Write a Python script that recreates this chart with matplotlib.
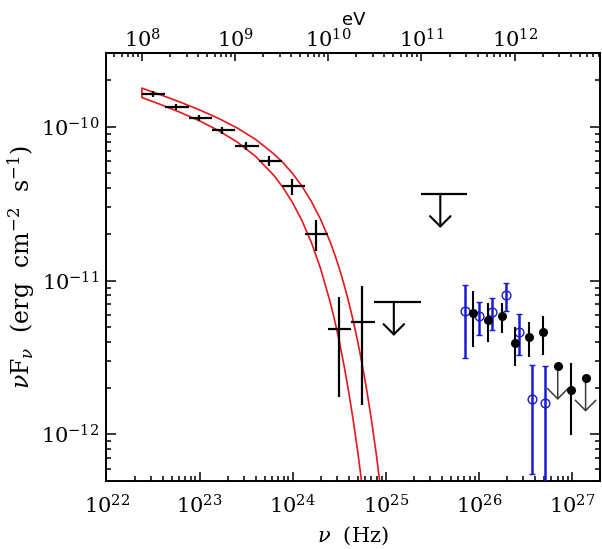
import numpy as np
import matplotlib
matplotlib.use('Agg')
import matplotlib.pyplot as plt
from matplotlib.ticker import LogLocator, LogFormatterMathtext, NullFormatter

plt.rcParams['font.family'] = ['DejaVu Serif']
plt.rcParams['mathtext.fontset'] = 'dejavuserif'

# ---------------- data ----------------
# Fermi-LAT spectral points (Hz, erg cm^-2 s^-1)
lat_nu = [3.13e22, 5.56e22, 9.89e22, 1.76e23, 3.13e23, 5.56e23, 9.90e23, 1.76e24, 3.13e24, 5.52e24]
lat_nu_lo = [2.42e22, 4.30e22, 7.64e22, 1.36e23, 2.42e23, 4.30e23, 7.64e23, 1.36e24, 2.38e24, 4.25e24]
lat_nu_hi = [4.30e22, 7.64e22, 1.36e23, 2.42e23, 4.30e23, 7.64e23, 1.36e24, 2.42e24, 4.25e24, 7.64e24]
lat_f = [1.63e-10, 1.35e-10, 1.14e-10, 9.5e-11, 7.5e-11, 6.0e-11, 4.09e-11, 2.01e-11, 4.83e-12, 5.41e-12]
lat_f_lo = [1.56e-10, 1.29e-10, 1.09e-10, 9.0e-11, 7.07e-11, 5.57e-11, 3.61e-11, 1.55e-11, 1.75e-12, 1.55e-12]
lat_f_hi = [1.70e-10, 1.41e-10, 1.19e-10, 1.0e-10, 7.96e-11, 6.46e-11, 4.59e-11, 2.47e-11, 7.85e-12, 9.18e-12]

# Fermi-LAT upper limits
ul_nu = [1.22e25, 3.85e25]
ul_nu_lo = [7.55e24, 2.39e25]
ul_nu_hi = [2.39e25, 7.43e25]
ul_f = [7.27e-12, 3.66e-11]

# TeV data, open blue circles
b_nu = [7.13e25, 1.00e26, 1.39e26, 1.95e26, 2.68e26, 3.73e26, 5.14e26]
b_f = [6.30e-12, 5.87e-12, 6.24e-12, 8.00e-12, 4.65e-12, 1.70e-12, 1.60e-12]
b_lo = [3.12e-12, 4.44e-12, 4.74e-12, 6.35e-12, 3.27e-12, 5.50e-13, 3.0e-13]
b_hi = [9.42e-12, 7.23e-12, 7.68e-12, 9.61e-12, 6.02e-12, 2.84e-12, 2.77e-12]

# TeV data, filled black circles
k_nu = [8.75e25, 1.25e26, 1.75e26, 2.47e26, 3.48e26, 4.92e26, 9.82e26]
k_f = [6.14e-12, 5.56e-12, 5.85e-12, 3.91e-12, 4.31e-12, 4.60e-12, 1.95e-12]
k_lo = [3.68e-12, 3.96e-12, 4.54e-12, 2.79e-12, 3.20e-12, 3.27e-12, 9.84e-13]
k_hi = [8.57e-12, 7.16e-12, 7.10e-12, 4.96e-12, 5.39e-12, 5.87e-12, 2.90e-12]
k_ul_nu = [7.03e26, 1.40e27]
k_ul_f = [2.79e-12, 2.34e-12]

# Model band (two red curves), log10(nu) and log10(nuFnu)
outer_lognu = [22.38, 22.6, 22.8, 23.0, 23.2, 23.4, 23.6, 23.8, 23.9, 24.0, 24.1, 24.2, 24.3,
               24.4, 24.45, 24.5, 24.55, 24.6, 24.65, 24.7, 24.75, 24.8, 24.85, 24.9, 24.95, 25.0]
outer_logf = [-9.749, -9.797, -9.842, -9.891, -9.945, -10.007, -10.082, -10.178, -10.236, -10.305,
              -10.387, -10.485, -10.602, -10.745, -10.828, -10.920, -11.022, -11.135, -11.261,
              -11.400, -11.556, -11.729, -11.922, -12.138, -12.379, -12.648]
inner_lognu = [22.38, 22.6, 22.8, 23.0, 23.2, 23.4, 23.6, 23.8, 23.9, 24.0, 24.1, 24.2, 24.3,
               24.4, 24.45, 24.5, 24.55, 24.6, 24.65, 24.7, 24.75, 24.8]
inner_logf = [-9.810, -9.860, -9.909, -9.962, -10.024, -10.098, -10.192, -10.318, -10.399, -10.495,
              -10.611, -10.751, -10.923, -11.134, -11.257, -11.394, -11.547, -11.718, -11.907,
              -12.118, -12.354, -12.618]

H_EV = 4.135667e-15  # eV per Hz

# ---------------- figure ----------------
fig = plt.figure(figsize=(6.02, 5.49), dpi=100)
ax = fig.add_axes([0.1769, 0.1244, 0.8198, 0.7785])
ax.set_xscale('log')
ax.set_yscale('log')
ax.set_xlim(1e22, 2e27)
ax.set_ylim(5e-13, 3e-10)

# model band
band_x = 10 ** np.concatenate([np.array(inner_lognu)[::-1], np.array(outer_lognu)])
band_y = 10 ** np.concatenate([np.array(inner_logf)[::-1], np.array(outer_logf)])
ax.plot(band_x, band_y, color='#e8161b', lw=1.2, zorder=2)

# LAT points
lat_nu_a = np.array(lat_nu); lat_f_a = np.array(lat_f)
ax.errorbar(lat_nu_a, lat_f_a,
            xerr=[lat_nu_a - np.array(lat_nu_lo), np.array(lat_nu_hi) - lat_nu_a],
            yerr=[lat_f_a - np.array(lat_f_lo), np.array(lat_f_hi) - lat_f_a],
            fmt='none', ecolor='black', elinewidth=1.6, capsize=0, zorder=3)

def down_arrow(x, y, color, lw, length=24.5, head=7.4):
    ax.annotate('', xy=(x, y), xycoords='data',
                xytext=(0, -length), textcoords='offset points',
                arrowprops=dict(arrowstyle=f'<-,head_length={head},head_width={head}',
                                color=color, lw=lw, shrinkA=0, shrinkB=0,
                                mutation_scale=1), zorder=3)

# LAT upper limits
ul_nu_a = np.array(ul_nu)
ax.errorbar(ul_nu_a, ul_f, xerr=[ul_nu_a - np.array(ul_nu_lo), np.array(ul_nu_hi) - ul_nu_a],
            fmt='none', ecolor='black', elinewidth=1.6, capsize=0, zorder=3)
for x, y in zip(ul_nu, ul_f):
    down_arrow(x, y, 'black', 1.5)

# blue open circles
b_f_a = np.array(b_f)
ax.errorbar(b_nu, b_f_a, yerr=[b_f_a - np.array(b_lo), np.array(b_hi) - b_f_a],
            fmt='o', mfc='none', mec='#1a1ad6', mew=1.0, ms=6.3, ecolor='#1a1ad6',
            elinewidth=1.8, capsize=2.2, capthick=1.6, zorder=4)

# black filled circles
k_f_a = np.array(k_f)
ax.errorbar(k_nu, k_f_a, yerr=[k_f_a - np.array(k_lo), np.array(k_hi) - k_f_a],
            fmt='o', mfc='black', mec='black', ms=5.5, ecolor='black',
            elinewidth=1.5, capsize=0, zorder=5)
ax.plot(k_ul_nu, k_ul_f, 'o', mfc='black', mec='black', ms=5.5, zorder=5)
for x, y in zip(k_ul_nu, k_ul_f):
    down_arrow(x, y, '#3a3a3a', 1.1)

# axes styling
for sp in ax.spines.values():
    sp.set_linewidth(1.4)
ax.tick_params(axis='both', which='both', direction='in', width=1.1,
               top=False, right=True, labelsize=15)
ax.tick_params(axis='x', which='major', length=6.5, pad=10)
ax.tick_params(axis='x', which='minor', length=3.3)
ax.tick_params(axis='y', which='major', length=7.2, pad=5)
ax.tick_params(axis='y', which='minor', length=3.3)
ax.xaxis.set_major_locator(LogLocator(base=10, numticks=20))
ax.xaxis.set_minor_locator(LogLocator(base=10, subs=np.arange(2, 10), numticks=20))
ax.xaxis.set_minor_formatter(NullFormatter())
ax.yaxis.set_major_formatter(LogFormatterMathtext())
ax.yaxis.set_minor_formatter(NullFormatter())

ax.set_xlabel(r'$\nu$  (Hz)', fontsize=15, labelpad=5)
ax.set_ylabel(r'$\nu$F$_\nu$  (erg  cm$^{-2}$  s$^{-1}$)', fontsize=17, labelpad=3)

secax = ax.secondary_xaxis('top', functions=(lambda nu: nu * H_EV, lambda e: e / H_EV))
secax.xaxis.set_major_locator(LogLocator(base=10, numticks=20))
secax.xaxis.set_minor_locator(LogLocator(base=10, subs=np.arange(2, 10), numticks=20))
secax.xaxis.set_major_formatter(LogFormatterMathtext())
secax.xaxis.set_minor_formatter(NullFormatter())
secax.tick_params(axis='x', which='both', direction='in', width=1.1, labelsize=15)
secax.tick_params(axis='x', which='major', length=6.0, pad=1.5)
secax.tick_params(axis='x', which='minor', length=3.0)
secax.spines['top'].set_linewidth(1.4)
secax.set_xlabel('eV', fontsize=13, fontfamily='DejaVu Sans', labelpad=2)

fig.savefig('out.png', dpi=100)
